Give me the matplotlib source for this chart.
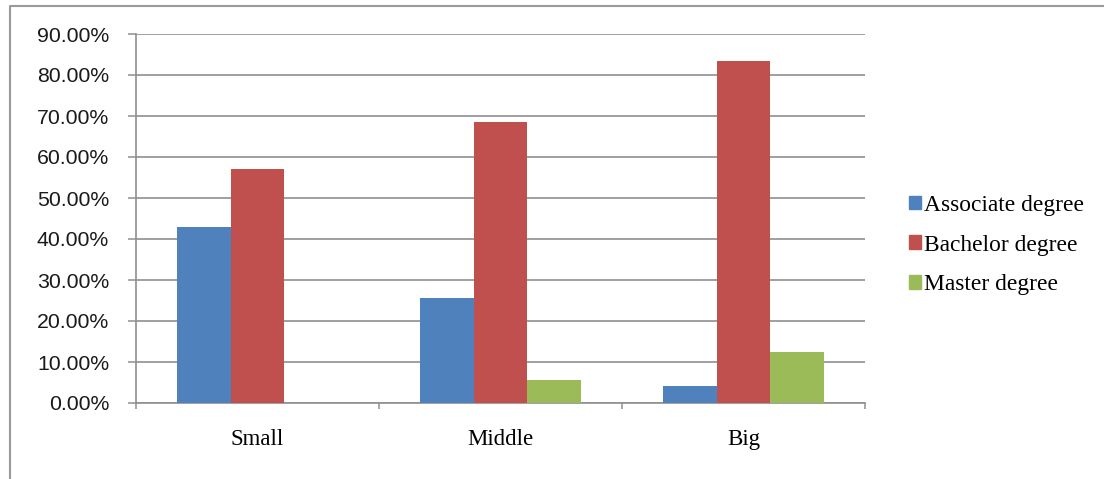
import matplotlib
matplotlib.use("Agg")
import matplotlib.pyplot as plt
import matplotlib.patches as mpatches
from matplotlib.lines import Line2D
from matplotlib.ticker import FuncFormatter, FixedLocator
import numpy as np

CATEGORIES = ["Small", "Middle", "Big"]
SERIES = ["Associate degree", "Bachelor degree", "Master degree"]
ASSOCIATE = [42.86, 25.71, 4.17]
BACHELOR = [57.14, 68.57, 83.33]
MASTER = [0.0, 5.71, 12.50]
COLORS = ["#4F81BD", "#C0504D", "#9BBB59"]

GRID = "#8f8f8f"
SERIF = ["Liberation Serif", "DejaVu Serif"]
SANS = ["Liberation Sans", "DejaVu Sans"]

fig = plt.figure(figsize=(11.04, 4.79), dpi=100)
ax = fig.add_axes([136 / 1104, 1 - 403 / 479, (865 - 136) / 1104, (403 - 34) / 479])

x = np.arange(len(CATEGORIES))
width = 0.222
for i, (vals, color) in enumerate(zip([ASSOCIATE, BACHELOR, MASTER], COLORS)):
    ax.bar(x + (i - 1) * width, vals, width, color=color, zorder=3, linewidth=0)

ax.set_xlim(-0.5, 2.5)
ax.set_ylim(0, 90)
ax.set_yticks(np.arange(0, 91, 10))
ax.yaxis.set_major_formatter(FuncFormatter(lambda v, _: f"{v:.2f}%"))
ax.grid(axis="y", color=GRID, linewidth=1.2, zorder=0)
ax.set_axisbelow(True)

ax.set_xticks(x)
ax.set_xticklabels(CATEGORIES, fontsize=16.5, family=SERIF)
ax.xaxis.set_minor_locator(FixedLocator([-0.5, 0.5, 1.5, 2.5]))
ax.tick_params(axis="x", which="major", length=0, pad=19)
ax.tick_params(axis="x", which="minor", length=4.5, width=1.1, color=GRID, direction="out")
ax.tick_params(axis="y", length=5.8, width=1.1, color=GRID, pad=13.5, labelsize=15.3)
for lab in ax.get_yticklabels():
    lab.set_family(SANS)
    lab.set_color("#1a1a1a")

for side in ["top", "right"]:
    ax.spines[side].set_visible(False)
for side in ["left", "bottom"]:
    ax.spines[side].set_color(GRID)
    ax.spines[side].set_linewidth(1.2)

handles = [mpatches.Patch(color=c, label=s) for c, s in zip(COLORS, SERIES)]
fig.legend(handles=handles, loc="center left", bbox_to_anchor=(909 / 1104, 1 - 245 / 479),
           frameon=False, borderpad=0, borderaxespad=0, handlelength=0.5, handleheight=0.5,
           handletextpad=0.15, labelspacing=0.8, prop={"family": SERIF, "size": 16.9})

# chart outer border (top and left edges visible)
fig.add_artist(Line2D([10 / 1104, 10 / 1104, 1], [0, 1 - 6 / 479, 1 - 6 / 479],
                      transform=fig.transFigure, color="#9a9a9a", linewidth=1.5))

fig.savefig("out.png", dpi=100)
